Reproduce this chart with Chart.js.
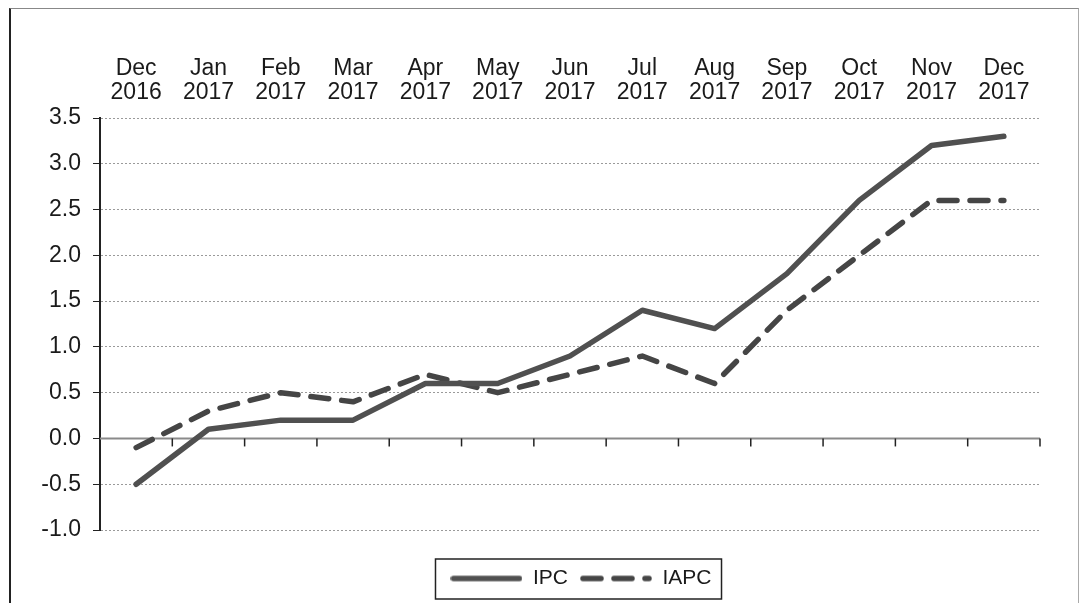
<!DOCTYPE html>
<html>
<head>
<meta charset="utf-8">
<script src="https://cdn.jsdelivr.net/npm/chart.js@4/dist/chart.umd.min.js"></script>
<style>
  html, body { margin: 0; padding: 0; background: #fff; }
  #wrap { position: relative; width: 1082px; height: 603px; }
  #frame { position: absolute; left: 9px; top: 8px; width: 1070px; height: 600px;
           border-left: 2px solid #222; border-top: 1px solid #888; border-right: 1px solid #aaa;
           box-sizing: border-box; pointer-events: none; }
</style>
</head>
<body>
<div id="wrap">
  <canvas id="chart" width="1082" height="603"></canvas>
  <div id="frame"></div>
</div>
<script>
// Chart data
const months = [
  ['Dec', '2016'], ['Jan', '2017'], ['Feb', '2017'], ['Mar', '2017'], ['Apr', '2017'],
  ['May', '2017'], ['Jun', '2017'], ['Jul', '2017'], ['Aug', '2017'], ['Sep', '2017'],
  ['Oct', '2017'], ['Nov', '2017'], ['Dec', '2017']
];
const ipc  = [-0.5, 0.1, 0.2, 0.2, 0.6, 0.6, 0.9, 1.4, 1.2, 1.8, 2.6, 3.2, 3.3];
const iapc = [-0.1, 0.3, 0.5, 0.4, 0.7, 0.5, 0.7, 0.9, 0.6, 1.4, 2.0, 2.6, 2.6];
const yMin = -1.0;
const yMax = 3.5;
const yStep = 0.5;

const FONT = 'Liberation Sans, Arial, sans-serif';
const LINE_W = 5.5;
const DASH = [18, 13];
const LEGEND_SHIFT = 56; // legend sits right of centre in the original

// Legend sample: small canvas with the line drawn in the dataset style
function legendSample(color, dash) {
  const c = document.createElement('canvas');
  c.width = 72;
  c.height = 8;
  const g = c.getContext('2d');
  g.strokeStyle = color;
  g.lineWidth = LINE_W;
  g.lineCap = 'round';
  g.setLineDash(dash);
  g.beginPath();
  g.moveTo(3, 4);
  g.lineTo(69, 4);
  g.stroke();
  return c;
}

// Zero line with tick marks at category boundaries
const zeroAxisPlugin = {
  id: 'zeroAxis',
  beforeDatasetsDraw(chart) {
    const { ctx, chartArea, scales } = chart;
    const y0 = scales.y.getPixelForValue(0);
    ctx.save();
    ctx.strokeStyle = '#8a8a8a';
    ctx.lineWidth = 2;
    ctx.beginPath();
    ctx.moveTo(chartArea.left, y0);
    ctx.lineTo(chartArea.right, y0);
    ctx.stroke();
    ctx.strokeStyle = '#222';
    ctx.lineWidth = 1.5;
    const n = months.length;
    for (let i = 1; i <= n; i++) {
      const x = i < n
        ? (scales.x.getPixelForValue(i - 1) + scales.x.getPixelForValue(i)) / 2
        : chartArea.right;
      ctx.beginPath();
      ctx.moveTo(x, y0);
      ctx.lineTo(x, y0 + 8);
      ctx.stroke();
    }
    ctx.restore();
  }
};

// Move the legend a bit to the right, then box it
const legendBoxPlugin = {
  id: 'legendBox',
  afterLayout(chart) {
    const lg = chart.legend;
    if (!lg) return;
    lg.left += LEGEND_SHIFT;
    lg.right += LEGEND_SHIFT;
  },
  afterDraw(chart) {
    const lg = chart.legend;
    if (!lg || !lg.legendHitBoxes.length) return;
    const boxes = lg.legendHitBoxes;
    const last = boxes[boxes.length - 1];
    const left = boxes[0].left - 15;
    const right = last.left + last.width + 10;
    const top = boxes[0].top - 9;
    const bottom = boxes[0].top + boxes[0].height + 10;
    const ctx = chart.ctx;
    ctx.save();
    ctx.strokeStyle = '#222';
    ctx.lineWidth = 1.5;
    ctx.strokeRect(left, top, right - left, bottom - top);
    ctx.restore();
  }
};

new Chart(document.getElementById('chart'), {
  type: 'line',
  data: {
    labels: months,
    datasets: [
      {
        label: 'IPC',
        data: ipc,
        borderColor: '#505050',
        backgroundColor: '#505050',
        borderWidth: LINE_W,
        pointRadius: 0,
        pointStyle: legendSample('#505050', []),
        tension: 0,
        borderCapStyle: 'round',
        borderJoinStyle: 'round'
      },
      {
        label: 'IAPC',
        data: iapc,
        borderColor: '#454545',
        backgroundColor: '#454545',
        borderWidth: LINE_W,
        borderDash: DASH,
        pointRadius: 0,
        pointStyle: legendSample('#454545', DASH),
        tension: 0,
        borderCapStyle: 'round',
        borderJoinStyle: 'round'
      }
    ]
  },
  options: {
    responsive: false,
    animation: false,
    layout: { padding: { left: 10, right: 42, top: 42, bottom: 4 } },
    scales: {
      x: {
        position: 'top',
        offset: true,
        grid: { display: false },
        border: { display: false },
        ticks: {
          color: '#1a1a1a',
          font: { family: FONT, size: 23, lineHeight: 1.05 },
          maxRotation: 0,
          autoSkip: false,
          padding: 5
        },
        afterFit(scale) { scale.height = 76; }
      },
      // empty spacer between plot and legend
      gap: {
        type: 'category',
        axis: 'x',
        position: 'bottom',
        grid: { display: false },
        border: { display: false },
        ticks: { display: false },
        afterFit(scale) { scale.height = 26; }
      },
      y: {
        min: yMin,
        max: yMax,
        ticks: {
          stepSize: yStep,
          color: '#1a1a1a',
          font: { family: FONT, size: 23 },
          padding: 12,
          callback: v => v.toFixed(1)
        },
        grid: {
          color: ctx => ctx.tick && ctx.tick.value === 0 ? 'rgba(0,0,0,0)' : '#9a9a9a',
          lineWidth: 1,
          tickColor: '#222',
          tickLength: 7,
          tickBorderDash: []
        },
        border: { display: true, color: '#222', width: 2, dash: [2, 2] },
        afterFit(scale) { scale.width = 90; }
      }
    },
    plugins: {
      legend: {
        position: 'bottom',
        labels: {
          usePointStyle: true,
          pointStyleWidth: 72,
          boxHeight: 8,
          color: '#1a1a1a',
          font: { family: FONT, size: 21 },
          padding: 12
        }
      },
      tooltip: { enabled: false }
    }
  },
  plugins: [zeroAxisPlugin, legendBoxPlugin]
});
</script>
</body>
</html>
